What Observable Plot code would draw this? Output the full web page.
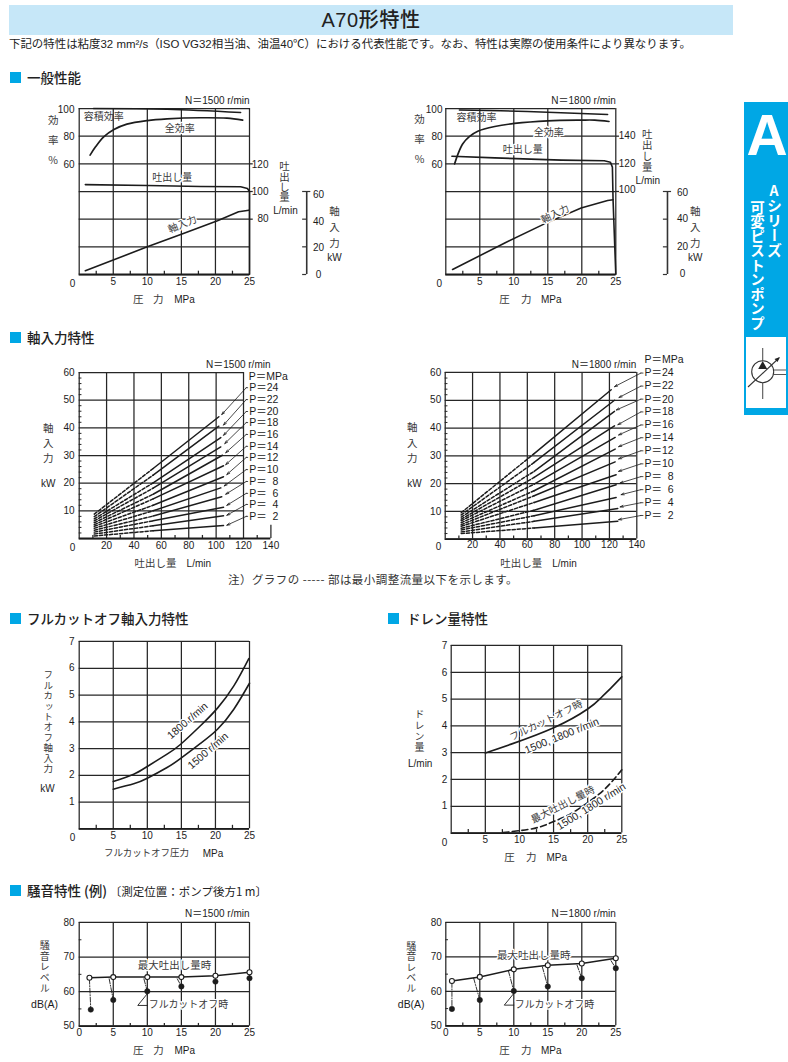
<!DOCTYPE html>
<html lang="ja"><head><meta charset="utf-8">
<script src="https://cdn.jsdelivr.net/npm/d3@7"></script>
<script src="https://cdn.jsdelivr.net/npm/@observablehq/plot@0.6"></script>
<style>
html,body{margin:0;padding:0;background:#fff;overflow:hidden}
#page{position:relative;width:788px;height:1062px;overflow:hidden;font-family:"Liberation Sans","Noto Sans CJK JP",sans-serif;color:#222}
#page svg{position:absolute;overflow:visible;background:transparent}
.abs{position:absolute;white-space:nowrap}
.band{left:9px;top:5px;width:724px;height:30px;background:#c6e7f8}
.title{left:9px;top:5px;width:724px;height:30px;text-align:center;font:500 20px/30px "Liberation Sans","Noto Sans CJK JP";letter-spacing:.6px;color:#222}
.sub{left:9px;top:36px;font:400 11.45px/16px "Liberation Sans","Noto Sans CJK JP";color:#222}
.sq{width:11px;height:11px;background:#00a7e5}
.sec{font:500 13.5px/18px "Noto Sans CJK JP";color:#222}
.sec span{font-weight:400;font-size:11.5px}
.foot{left:228px;top:571px;font:400 11.5px/16px "Noto Sans CJK JP";color:#333;letter-spacing:.45px}
.tab{left:744px;top:102px;width:44px;height:313px;background:#00a7e5}
</style></head><body><div id="page"></div>
<script>
// ---------- text ----------
const pageTitle = "A70形特性";
const pageSubtitle = "下記の特性は粘度32 mm²/s（ISO VG32相当油、油温40℃）における代表性能です。なお、特性は実際の使用条件により異なります。";
const sectionGeneral = "一般性能", sectionShaft = "軸入力特性", sectionCutoff = "フルカットオフ軸入力特性",
      sectionDrain = "ドレン量特性", sectionNoise = "騒音特性 (例)", sectionNoiseNote = "〔測定位置：ポンプ後方1 m〕";
const footnote = "注）グラフの ----- 部は最小調整流量以下を示します。";

// ---------- 一般性能 1500 r/min ----------
const vol1500P = [2.1, 12.9, 23.7], vol1500E = [100, 99.5, 97.1];
const tot1500P = [1.6, 2.4, 3.6, 5.1, 7, 10, 12.9, 17.8, 21.7, 24], tot1500E = [66.3, 72.3, 79.5, 84.8, 88.7, 91.3, 92.5, 93.3, 93, 91.6];
const flow1500P = [0.9, 10, 17.8, 23.7, 24.7, 25, 25], flow1500Q = [105, 104.3, 103.6, 103.4, 102.2, 100, 40];
const pow1500P = [0.9, 10, 14.9, 20.3, 23.4, 24.9], pow1500K = [2.7, 20, 28.9, 38.8, 45.3, 46.5];
// ---------- 一般性能 1800 r/min ----------
const vol1800P = [2, 12, 23.8], vol1800E = [99, 97.8, 95.7];
const tot1800P = [1.3, 1.8, 2.5, 3.5, 4.7, 7.2, 10.1, 15, 19.9, 21.9, 24], tot1800E = [60, 67.2, 74.5, 79.8, 83.6, 87, 89.2, 91.1, 91.6, 91.6, 90.6];
const flow1800P = [0.9, 7.2, 17, 23.3, 24.2, 24.5, 24.6, 25], flow1800Q = [125.5, 124.3, 122.7, 122.2, 121.2, 117.6, 93.5, 40];
const pow1800P = [1, 8.6, 14.5, 19.9, 23.8, 24.6], pow1800K = [3.6, 22.6, 36.6, 48, 53.5, 54];

// ---------- 軸入力特性 (order P=24 … 2) ----------
const pressures = [24, 22, 20, 18, 16, 14, 12, 10, 8, 6, 4, 2];
const s1500 = {
  startQ: [11, 11, 11, 11, 11, 11, 11, 11, 11, 11, 11, 11],
  startK: [8.8, 7.9, 7.1, 6.4, 5.7, 5, 4.4, 3.7, 3, 2.3, 1.6, 0.9],
  breakQ: [54, 54, 54, 54, 54, 54, 54, 54, 54, 54, 54, 54],
  breakK: [25.3, 22.9, 20.1, 18.2, 16, 14.3, 12, 10, 8.1, 6.4, 4.6, 2.8],
  endQ: [102, 102, 103.4, 103.4, 104.6, 105.4, 105.4, 103.4, 104.1, 105.4, 105.4, 105.4],
  endK: [44, 40.6, 36.5, 33.1, 30.1, 26.3, 22.3, 18.3, 15.1, 11.3, 8.2, 4.7],
  labelK: [54.5, 50.2, 45.9, 41.9, 37.6, 33.3, 29.3, 24.9, 20.6, 16.3, 12.3, 8],
  tipQ: [104.1, 105.4, 105.4, 106.3, 107, 107, 107.8, 105.9, 107, 107.8, 107.8, 107.8],
  tipK: [44.8, 41, 37.3, 34.3, 31, 26.7, 23.1, 19, 16, 12, 8.4, 4.8]
};
const s1800 = {
  startQ: [11.7, 11.7, 11.7, 11.7, 11.7, 11.7, 11.7, 11.7, 11.7, 11.7, 11.7, 11.7],
  startK: [9.5, 8.7, 7.9, 7.2, 6.6, 5.9, 5.2, 4.6, 3.9, 3.3, 2.6, 2],
  breakQ: [65, 65, 65, 65, 65, 65, 65, 65, 65, 65, 65, 65],
  breakK: [30.8, 27.6, 24.4, 22.2, 19.8, 17.4, 15.6, 13.2, 10.4, 8.4, 6.4, 4],
  endQ: [121.3, 123.7, 123.7, 123.7, 124.2, 124.2, 124.2, 124.9, 124.9, 124.9, 126.1, 126.1],
  endK: [53.8, 50, 46, 40.8, 36.6, 32.4, 27.8, 23.2, 19.6, 15, 11, 6.4],
  labelK: [59.8, 55.1, 50.4, 45.8, 41.1, 36.5, 31.8, 27.1, 22.5, 17.8, 13.1, 8.5],
  tipQ: [123.7, 127, 125, 126.2, 126.7, 126.7, 126.7, 126.7, 127.8, 128.5, 127.8, 126.7],
  tipK: [54.9, 51, 46.5, 41.2, 37.5, 33.3, 28.9, 24.4, 20.2, 16, 11.6, 7]
};

// ---------- フルカットオフ軸入力 ----------
const cut1800P = [5, 8, 10, 12.9, 14.9, 17.8, 20.3, 22.7, 24.9], cut1800K = [1.77, 2.04, 2.33, 2.79, 3.16, 3.85, 4.51, 5.34, 6.36];
const cut1500P = [5, 8, 10, 12.9, 14.9, 17.8, 20.3, 22.7, 25], cut1500K = [1.48, 1.68, 1.89, 2.29, 2.63, 3.19, 3.72, 4.47, 5.44];
// ---------- ドレン量 ----------
const drainCutP = [5, 8.8, 15.1, 20, 22, 23.4, 25], drainCutL = [2.99, 3.32, 3.94, 4.63, 5.06, 5.41, 5.83];
const drainMaxP = [7.6, 10, 12.7, 15.1, 17.6, 20, 22.5, 25], drainMaxL = [0.02, 0.09, 0.21, 0.44, 0.73, 1.14, 1.64, 2.36];
// ---------- 騒音 ----------
const noise1500 = {
  openP: [1.5, 5, 10, 15, 20, 25], openD: [64, 64.2, 64.2, 64.2, 64.6, 65.6],
  fullP: [1.7, 5, 10, 15, 20, 25], fullD: [54.8, 57.6, 60.1, 61.5, 62.9, 63.9],
  linkP: [1.5, 4.4, 9.5, 14.4], linkD: [63.6, 63.7, 63.7, 63.7]
};
const noise1800 = {
  openP: [0.9, 5, 10, 15, 20, 25], openD: [63, 64.2, 66.4, 67.6, 68.1, 69.6],
  fullP: [0.9, 5, 10, 15, 20, 25], fullD: [54.9, 57.5, 60.1, 61.4, 63.8, 66.7],
  linkP: [0.9, 4.1, 9.2, 14.2, 19.3, 24.3], linkD: [62.6, 63.8, 66, 67.1, 67.6, 68.9]
};
const noiseLeaderP = [10, 8.6, 10], noiseLeaderD = [59.4, 56, 56];

// ---------- tick lists ----------
const pressureTicks = [5, 10, 15, 20, 25], pressureMinor = [2.5, 7.5, 12.5, 17.5, 22.5];
const flowTicks = [20, 40, 60, 80, 100, 120, 140], flowMinor = [10, 30, 50, 70, 90, 110, 130];
const shaftTicks = [0, 10, 20, 30, 40, 50, 60], shaftMinor = [2, 4, 6, 8, 12, 14, 16, 18, 22, 24, 26, 28, 32, 34, 36, 38, 42, 44, 46, 48, 52, 54, 56, 58];
const effTicks = [60, 80, 100], effGrid = [-20, 0, 20, 40, 60, 80, 100];
const kwTicks = [0, 20, 40, 60];
const oneToSeven = [1, 2, 3, 4, 5, 6, 7], dbTicks = [50, 60, 70, 80], dbMinor = [55, 65, 75];

// ---------- helpers ----------
const page = document.getElementById("page");
const LAT = '"Liberation Sans","Noto Sans CJK JP",sans-serif', CJK = '"Noto Sans CJK JP",sans-serif';
const INK = "#1c1c1c", GRID = "#262626";
const pts = (xs, ys) => xs.map((x, i) => ({x, y: ys[i]}));
const tr = (xs, ys, opts) => Plot.line(pts(xs, ys), {x: "x", y: "y", stroke: INK, strokeWidth: 1.5, ...opts});
function el(cls, html, style) { const d = document.createElement("div"); d.className = "abs " + cls; d.innerHTML = html; Object.assign(d.style, style || {}); page.append(d); }
const verticalSheet = document.head.appendChild(document.createElement("style"));
let verticalCount = 0;

function panel({fl, fr, ft, fb, left, width, x, y, marks}) {
  const top = ft - 30, bottom = fb + 36;
  const note = (s, px, py, o = {}) => Plot.text([s], {
    frameAnchor: "top-left", dx: px - fl, dy: py - ft, text: d => d, textAnchor: o.anchor || "middle", lineAnchor: "middle",
    fontFamily: o.font || CJK, fontSize: o.size || 10, fill: o.fill || "#3a3a3a", rotate: o.rotate, className: o.className,
    ...(o.halo ? {stroke: "#fff", strokeWidth: 2.6} : {})
  });
  const latin = (s, px, py, o = {}) => note(s, px, py, {font: LAT, fill: INK, ...o});
  // vertical titles: one text in vertical writing mode, with the reference's character pitch
  const stack = (chars, px, pys, o = {}) => {
    const size = o.size || 10, step = (pys[pys.length - 1] - pys[0]) / (pys.length - 1), gap = step - size;
    const cls = "vt" + (++verticalCount);
    verticalSheet.textContent += `.${cls} text{writing-mode:vertical-rl;text-orientation:upright;letter-spacing:${gap.toFixed(2)}px}\n`;
    return [note(chars.join(""), px, (pys[0] + pys[pys.length - 1]) / 2 + gap / 2 - 0.32 * size, {...o, className: cls})];
  };
  const plot = Plot.plot({
    width, height: bottom - top, marginLeft: fl - left, marginRight: left + width - fr, marginTop: 30, marginBottom: 36,
    x: {domain: x, axis: null}, y: {domain: y, axis: null},
    style: {left: left + "px", top: top + "px", background: "transparent", fontFamily: LAT},
    marks: marks({note, latin, stack})
  });
  page.append(plot);
}
const xLab = (ticks, o = {}) => Plot.axisX(ticks, {anchor: "bottom", tickSize: 0, label: null, fontSize: 10, fontFamily: LAT, fill: INK, ...o});
const yLab = (ticks, o = {}) => Plot.axisY(ticks, {anchor: "left", tickSize: 0, label: null, fontSize: 10, fontFamily: LAT, fill: INK, ...o});
const grid = {stroke: GRID, strokeWidth: 1.25};
const pressureTitle = (latinFn, noteFn, a, b, c, py) => [noteFn("圧", a, py, {size: 10.5}), noteFn("力", b, py, {size: 10.5}), latinFn("MPa", c, py)];

// ---------- 一般性能 ----------
function general(cfg) {
  const q2y = v => v - 60, k2y = v => v - 20;   // right-hand scales share the frame
  panel({fl: cfg.fl, fr: cfg.fr, ft: 108.2, fb: 274.2, left: cfg.left, width: 394, x: [0, 25], y: [-20, 100], marks: ({note, latin, stack}) => [
    Plot.ruleY(effGrid, {x1: 0, x2: 25, ...grid}),
    Plot.ruleX([0, ...pressureTicks], {y1: -20, y2: 100, ...grid}),
    Plot.ruleX(pressureMinor, {y1: -20, y2: -17.6, ...grid}),
    Plot.ruleY(cfg.qTicks, {y: q2y, x1: 25, x2: 25.55, ...grid}),
    Plot.ruleY([-20], {x1: 0, x2: 25, stroke: INK, strokeWidth: 1.8}),
    tr(cfg.volP, cfg.volE, {curve: "catmull-rom"}),
    tr(cfg.totP, cfg.totE, {curve: "catmull-rom", strokeWidth: 1.7}),
    tr(cfg.flowP, cfg.flowQ.map(q2y), {strokeWidth: 1.6}),
    tr(cfg.powP, cfg.powK.map(k2y), {strokeWidth: 1.6}),
    // kW scale
    Plot.ruleX([cfg.kwX], {y1: k2y(0), y2: k2y(60), stroke: "#333", strokeWidth: 1.6}),
    Plot.ruleY(kwTicks, {y: k2y, x1: cfg.kwX - 0.6, x2: cfg.kwX, stroke: "#333", strokeWidth: 1.2}),
    Plot.ruleY([60], {y: k2y, x1: cfg.kwX, x2: cfg.kwX + 0.6, stroke: "#333", strokeWidth: 1.2}),
    yLab(effTicks, {dx: cfg.yDx, tickPadding: 0, textAnchor: "end", dy: 1}),
    xLab(pressureTicks, {tickPadding: 3}),
    ...cfg.notes({note, latin, stack})
  ]});
}
general({
  fl: 78.7, fr: 249, left: 0, kwX: 33.4, qTicks: [120, 100, 80], yDx: -4.7,
  volP: vol1500P, volE: vol1500E, totP: tot1500P, totE: tot1500E, flowP: flow1500P, flowQ: flow1500Q, powP: pow1500P, powK: pow1500K,
  notes: ({note, latin, stack}) => [
    latin("N＝1500 r/min", 249, 100.5, {anchor: "end"}), latin("0", 72, 283.3),
    ...stack(["効", "率", "%"], 52.7, [120, 140, 160], {size: 10.5}),
    latin("120", 268, 164.3, {anchor: "end"}), latin("100", 268, 191.3, {anchor: "end"}), latin("80", 268, 218.3, {anchor: "end"}),
    ...stack(["吐", "出", "し", "量"], 284, [166, 177, 187.5, 197], {size: 10.5}), latin("L/min", 285, 210),
    latin("60", 318, 194), latin("40", 318, 221), latin("20", 318, 247.7), latin("0", 318, 274.5),
    ...stack(["軸", "入", "力"], 334, [210.7, 227, 242.7], {size: 10.5}), latin("kW", 334, 257.7),
    ...pressureTitle(latin, note, 137.7, 157.7, 184, 299),
    note("容積効率", 103.3, 116.7), note("全効率", 179.3, 128.3, {halo: true}), note("吐出し量", 171.7, 177.7, {halo: true}),
    note("軸入力", 182, 224, {rotate: -22, halo: true})
  ]
});
general({
  fl: 445.3, fr: 615.3, left: 394, kwX: 32.6, qTicks: [140, 120, 100], yDx: -3.3,
  volP: vol1800P, volE: vol1800E, totP: tot1800P, totE: tot1800E, flowP: flow1800P, flowQ: flow1800Q, powP: pow1800P, powK: pow1800K,
  notes: ({note, latin, stack}) => [
    latin("N＝1800 r/min", 615.3, 100.5, {anchor: "end"}), latin("0", 438.7, 283.3),
    ...stack(["効", "率", "%"], 419, [119, 139.3, 159], {size: 10.5}),
    latin("140", 635, 135.3, {anchor: "end"}), latin("120", 635, 163, {anchor: "end"}), latin("100", 635, 189.5, {anchor: "end"}),
    ...stack(["吐", "出", "し", "量"], 646.7, [134, 145.7, 156.7, 166.7], {size: 10.5}), latin("L/min", 647.3, 180.3),
    latin("60", 682, 192.7), latin("40", 682, 218.7), latin("20", 682, 246), latin("0", 682, 273.3),
    ...stack(["軸", "入", "力"], 694.7, [211, 226.7, 242.3], {size: 10.5}), latin("kW", 694.7, 257.3),
    ...pressureTitle(latin, note, 504, 525.7, 550.7, 299),
    note("容積効率", 476, 117.7), note("全効率", 548.3, 132.3, {halo: true}), note("吐出し量", 522.3, 149.3, {halo: true}),
    note("軸入力", 554.7, 214, {rotate: -25, halo: true})
  ]
});

// ---------- 軸入力特性 ----------
function shaft(cfg) {
  const s = cfg.series, idx = d3.range(pressures.length), gridEnd = cfg.gridEnd;
  panel({fl: cfg.fl, fr: cfg.fr, ft: cfg.ft, fb: 538.3, left: cfg.left, width: 394, x: [0, 140], y: [0, 60], marks: ({note, latin, stack}) => [
    Plot.ruleY(shaftTicks, {x1: 0, x2: gridEnd, ...grid}),
    Plot.ruleX([0, ...flowTicks.filter(v => v <= gridEnd)], {y1: 0, y2: 60, ...grid}),
    Plot.ruleX([140], {y1: 0, y2: cfg.stubTop, ...grid}),
    Plot.ruleX(flowMinor, {y1: 0, y2: 1.1, ...grid}),
    Plot.ruleY(shaftMinor, {x1: 0, x2: 2, stroke: GRID, strokeWidth: 1}),
    Plot.ruleY([0], {x1: 0, x2: 140, stroke: INK, strokeWidth: 1.8}),
    ...idx.flatMap(i => [
      tr([s.startQ[i], s.breakQ[i]], [s.startK[i], s.breakK[i]], {strokeDasharray: "3.2 1.9", strokeWidth: 1.5}),
      tr([s.breakQ[i], s.endQ[i]], [s.breakK[i], s.endK[i]], {strokeWidth: 1.5})
    ]),
    Plot.ruleY(s.labelK, {x1: cfg.leadQ, x2: cfg.labelQ - 0.4, stroke: INK, strokeWidth: 0.8}),
    Plot.arrow(idx, {x1: () => cfg.leadQ, y1: i => s.labelK[i], x2: i => s.tipQ[i], y2: i => s.tipK[i], stroke: INK, strokeWidth: 0.8, bend: 0, headLength: 6, headAngle: 35}),
    Plot.text(pressures, {x: () => cfg.labelQ, y: (d, i) => s.labelK[i], text: d => `P＝${d < 10 ? "\u2007" : ""}${d}`, textAnchor: "start", fontFamily: LAT, fontSize: 10.5, fill: INK}),
    yLab(shaftTicks.slice(1), {dx: cfg.yDx, tickPadding: 0, textAnchor: "end"}),
    xLab(flowTicks, {tickPadding: 3, dy: cfg.xDy}),
    ...cfg.notes({note, latin, stack})
  ]});
}
shaft({
  fl: 78.7, fr: 270.4, ft: 372.3, left: 0, series: s1500, gridEnd: 120, stubTop: 4.8, leadQ: 122, labelQ: 124.1, yDx: -4.7, xDy: 0,
  notes: ({note, latin, stack}) => [
    latin("N＝1500 r/min", 270, 364.3, {anchor: "end"}), latin("P＝MPa", 248.3, 376.7, {anchor: "start", size: 10.5}), latin("0", 72, 547.7),
    ...stack(["軸", "入", "力"], 47.7, [427.3, 442.3, 457.3], {size: 10.5}), latin("kW", 47.7, 483.3),
    note("吐出し量", 155, 563.3, {size: 10.5}), latin("L/min", 198.3, 563.3)
  ]
});
shaft({
  fl: 444.7, fr: 636.3, ft: 371.7, left: 394, series: s1800, gridEnd: 140, stubTop: 0, leadQ: 143, labelQ: 145.6, yDx: -4, xDy: -1,
  notes: ({note, latin, stack}) => [
    latin("N＝1800 r/min", 635.7, 364.3, {anchor: "end"}), latin("P＝MPa", 644, 359.3, {anchor: "start", size: 10.5}), latin("0", 438, 546.5),
    ...stack(["軸", "入", "力"], 411.7, [426.7, 441.7, 457], {size: 10.5}), latin("kW", 414, 482.7),
    note("吐出し量", 520.7, 562.7, {size: 10.5}), latin("L/min", 564, 562.7)
  ]
});

// ---------- フルカットオフ / ドレン ----------
function sevenPanel(cfg) {
  panel({fl: cfg.fl, fr: cfg.fr, ft: cfg.ft, fb: cfg.fb, left: cfg.left, width: 394, x: [0, 25], y: [0, 7], marks: ({note, latin, stack}) => [
    Plot.ruleY([0, ...oneToSeven], {x1: 0, x2: 25, ...grid}),
    Plot.ruleX([0, ...pressureTicks], {y1: 0, y2: 7, ...grid}),
    Plot.ruleX(pressureMinor, {y1: 0, y2: 0.13, ...grid}),
    Plot.ruleY([0], {x1: 0, x2: 25, stroke: INK, strokeWidth: 1.8}),
    ...cfg.lines(),
    yLab(oneToSeven, {dx: cfg.yDx, tickPadding: 0, textAnchor: "end"}),
    xLab(pressureTicks, {tickPadding: 3}),
    ...cfg.notes({note, latin, stack})
  ]});
}
sevenPanel({
  fl: 78.7, fr: 249, ft: 640.7, fb: 828, left: 0, yDx: -4.7,
  lines: () => [tr(cut1800P, cut1800K, {curve: "natural", strokeWidth: 1.6}), tr(cut1500P, cut1500K, {curve: "natural", strokeWidth: 1.6})],
  notes: ({note, latin, stack}) => [
    latin("0", 72, 836.7),
    ...stack(["フ", "ル", "カ", "ッ", "ト", "オ", "フ", "軸", "入", "力"], 47.7, [674, 684.3, 695, 705, 715, 725, 735.7, 745.7, 756.7, 767.7], {size: 9.5}),
    latin("kW", 47, 787.7),
    note("フルカットオフ圧力", 146, 852.5, {size: 9.5}), latin("MPa", 212.5, 852.5),
    latin("1800 r/min", 187, 720, {rotate: -41, halo: true, size: 10.5}),
    latin("1500 r/min", 207.5, 750, {rotate: -41, halo: true, size: 10.5})
  ]
});
sevenPanel({
  fl: 450.7, fr: 621.3, ft: 644.7, fb: 832.3, left: 394, yDx: -4,
  lines: () => [tr(drainCutP, drainCutL, {curve: "natural", strokeWidth: 1.6}), tr(drainMaxP, drainMaxL, {curve: "natural", strokeWidth: 1.6, strokeDasharray: "6 3.5"})],
  notes: ({note, latin, stack}) => [
    latin("0", 444, 841.7),
    ...stack(["ド", "レ", "ン", "量"], 419, [713.3, 724, 734.3, 746], {size: 10}), latin("L/min", 419.7, 763.3),
    ...pressureTitle(latin, note, 509, 530.7, 556.3, 856.7),
    note("フルカットオフ時", 545.7, 720, {rotate: -26, halo: true}),
    latin("1500, 1800 r/min", 561.3, 735, {rotate: -22, halo: true, size: 10.5}),
    note("最大吐出し量時", 562.5, 804, {rotate: -27, halo: true}),
    latin("1500, 1800 r/min", 590.7, 805.7, {rotate: -32, halo: true, size: 10.5})
  ]
});

// ---------- 騒音 ----------
function noise(cfg) {
  const n = cfg.data;
  panel({fl: cfg.fl, fr: cfg.fr, ft: cfg.ft, fb: cfg.fb, left: cfg.left, width: 394, x: [0, 25], y: [50, 80], marks: ({note, latin, stack}) => [
    Plot.ruleY(dbTicks, {x1: 0, x2: 25, ...grid}),
    Plot.ruleX([0, ...pressureTicks], {y1: 50, y2: 80, ...grid}),
    Plot.ruleX(pressureMinor, {y1: 50, y2: 50.8, ...grid}),
    Plot.ruleY(dbMinor, {x1: 0, x2: 0.4, stroke: GRID, strokeWidth: 1}),
    Plot.ruleY([50], {x1: 0, x2: 25, stroke: INK, strokeWidth: 1.8}),
    ...n.linkP.map((p, i) => tr([p, n.fullP[i]], [n.linkD[i], n.fullD[i]], {strokeWidth: 0.9, strokeDasharray: "5 1.5 1 1.5"})),
    tr(n.openP, n.openD, {strokeWidth: 1.5}),
    Plot.dot(pts(n.fullP, n.fullD), {x: "x", y: "y", r: 2.7, fill: INK, stroke: INK, strokeWidth: 0.5}),
    Plot.dot(pts(n.openP, n.openD), {x: "x", y: "y", r: 2.5, fill: "#fff", stroke: INK, strokeWidth: 1.1}),
    tr(noiseLeaderP, noiseLeaderD, {strokeWidth: 0.9}),
    yLab(dbTicks, {dx: cfg.yDx, tickPadding: 0, textAnchor: "end"}),
    xLab([0, ...pressureTicks], {tickPadding: 3}),
    ...cfg.notes({note, latin, stack})
  ]});
}
const noiseV = ["騒", "音", "レ", "ベ", "ル"], noiseYs = [945, 956.7, 966.3, 975.7, 987.3];
noise({
  fl: 78.7, fr: 249, ft: 922, fb: 1025.7, left: 0, yDx: -4.7, data: noise1500,
  notes: ({note, latin, stack}) => [
    latin("N＝1500 r/min", 249, 913.3, {anchor: "end"}),
    ...stack(noiseV, 44.3, noiseYs, {size: 10}), latin("dB(A)", 44, 1004.3, {size: 10.5}),
    ...pressureTitle(latin, note, 137.7, 158, 184.3, 1050.3),
    note("最大吐出し量時", 174, 965, {size: 10.5, halo: true}), note("フルカットオフ時", 188, 1004.3, {size: 10, halo: true})
  ]
});
noise({
  fl: 445.3, fr: 615.3, ft: 921.7, fb: 1025, left: 394, yDx: -4, data: noise1800,
  notes: ({note, latin, stack}) => [
    latin("N＝1800 r/min", 615.3, 913.3, {anchor: "end"}),
    ...stack(noiseV, 410.7, noiseYs, {size: 10}), latin("dB(A)", 410.7, 1004.3, {size: 10.5}),
    ...pressureTitle(latin, note, 504, 525.7, 550.7, 1049.7),
    note("最大吐出し量時", 533.3, 955, {size: 10.5, halo: true}), note("フルカットオフ時", 554, 1004.3, {size: 10, halo: true})
  ]
});

// ---------- page furniture ----------
el("band", "");
el("title", pageTitle);
el("sub", pageSubtitle);
[[10, 71.7, 27, 68, sectionGeneral], [10, 331.5, 27, 328, sectionShaft], [10, 612.5, 27, 609, sectionCutoff],
 [388, 612.5, 407, 609, sectionDrain], [10, 884.5, 27, 881, `${sectionNoise}<span> ${sectionNoiseNote}</span>`]].forEach(([sx, sy, tx, ty, t]) => {
  el("sq", "", {left: sx + "px", top: sy + "px"});
  el("sec", t, {left: tx + "px", top: ty + "px"});
});
el("foot", footnote);
el("tab", "");
el("", "A", {left: "746.5px", top: "99.3px", font: '700 57px/72px "Liberation Sans"', color: "#fff"});
el("", '<span style="text-orientation:upright;font-size:14px">A</span>シリーズ', {left: "767px", top: "184px", writingMode: "vertical-rl", font: '700 15px/14px "Noto Sans CJK JP"', color: "#fff"});
el("", "可変ピストンポンプ", {left: "750px", top: "200px", writingMode: "vertical-rl", font: '700 14.5px/14px "Noto Sans CJK JP"', color: "#fff"});
el("", `<svg width="40" height="71" style="position:static;display:block" viewBox="0 0 40 71">
<rect width="40" height="71" fill="#fff"/>
<g fill="none" stroke="#555" stroke-width="1.1"><path d="M16.7 11V23.7M16.7 46V62"/><circle cx="16.7" cy="34.7" r="11" stroke="#333"/><path d="M2 50L33 21" stroke="#333"/><path d="M28 33H40M28 37.5H40"/></g>
<path d="M16.7 24l4.5 8h-9z" fill="#222"/><path d="M34 20l-5.5 2 3 3z" fill="#222"/></svg>`, {left: "746px", top: "337px"});
</script></body></html>
